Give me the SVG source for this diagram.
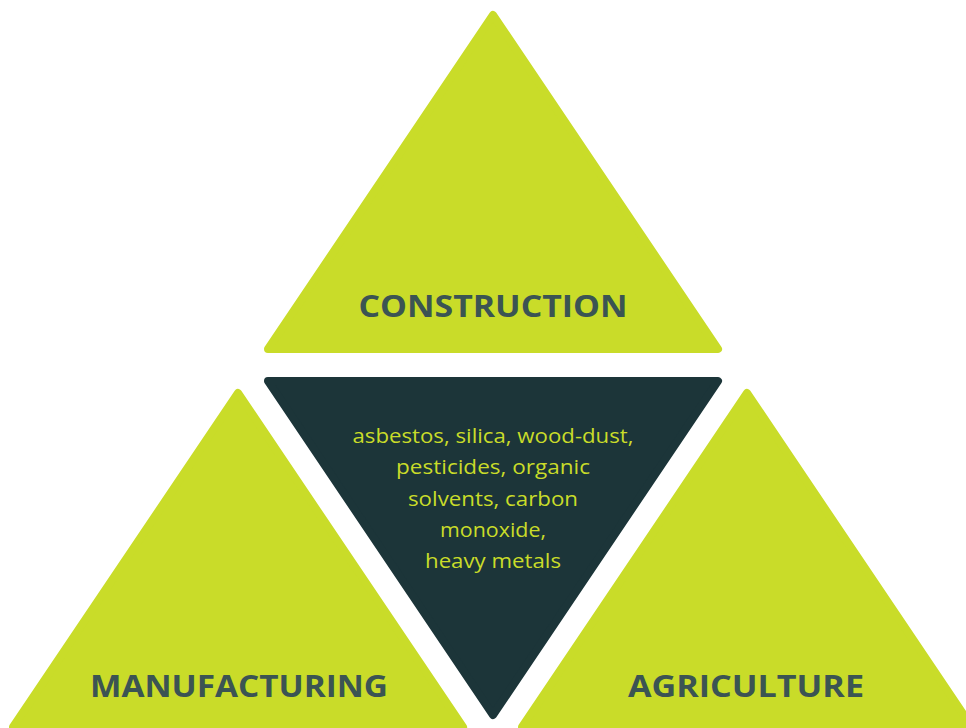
<svg xmlns="http://www.w3.org/2000/svg" width="966" height="728" viewBox="0 0 966 728">
<style>
.lime{fill:#C9DC29;stroke:#C9DC29;stroke-width:8;stroke-linejoin:round}
.dark{fill:#1C3539;stroke:#1C3539;stroke-width:8;stroke-linejoin:round}
.title{font-family:"Open Sans","Liberation Sans",sans-serif;font-weight:700;font-size:30px;fill:#3B5453;text-anchor:middle}
.body{font-family:"Open Sans","Liberation Sans",sans-serif;font-weight:400;font-size:20px;fill:#C9DC29;text-anchor:middle}
</style>
<defs>
<polygon id="tri" points="0,6 225,340 -225,340"/>
</defs>
<rect width="966" height="728" fill="#FFFFFF"/>
<g id="construction">
<use href="#tri" class="lime" transform="translate(493,9)"/>
<text class="title" x="493" y="317" textLength="269" lengthAdjust="spacingAndGlyphs">CONSTRUCTION</text>
</g>
<g id="hazards">
<use href="#tri" class="dark" transform="translate(493,721) scale(1,-1)"/>
<text class="body" x="493" y="443" textLength="281" lengthAdjust="spacingAndGlyphs">asbestos, silica, wood-dust,</text>
<text class="body" x="493" y="474" textLength="194" lengthAdjust="spacingAndGlyphs">pesticides, organic</text>
<text class="body" x="493" y="506" textLength="170" lengthAdjust="spacingAndGlyphs">solvents, carbon</text>
<text class="body" x="493" y="537" textLength="106" lengthAdjust="spacingAndGlyphs">monoxide,</text>
<text class="body" x="493" y="568" textLength="136" lengthAdjust="spacingAndGlyphs">heavy metals</text>
</g>
<g id="manufacturing">
<use href="#tri" class="lime" transform="translate(238,387)"/>
<text class="title" x="239" y="697" textLength="298" lengthAdjust="spacingAndGlyphs">MANUFACTURING</text>
</g>
<g id="agriculture">
<use href="#tri" class="lime" transform="translate(747,387)"/>
<text class="title" x="746" y="697" textLength="236" lengthAdjust="spacingAndGlyphs">AGRICULTURE</text>
</g>
<g id="connectors"/>
</svg>
